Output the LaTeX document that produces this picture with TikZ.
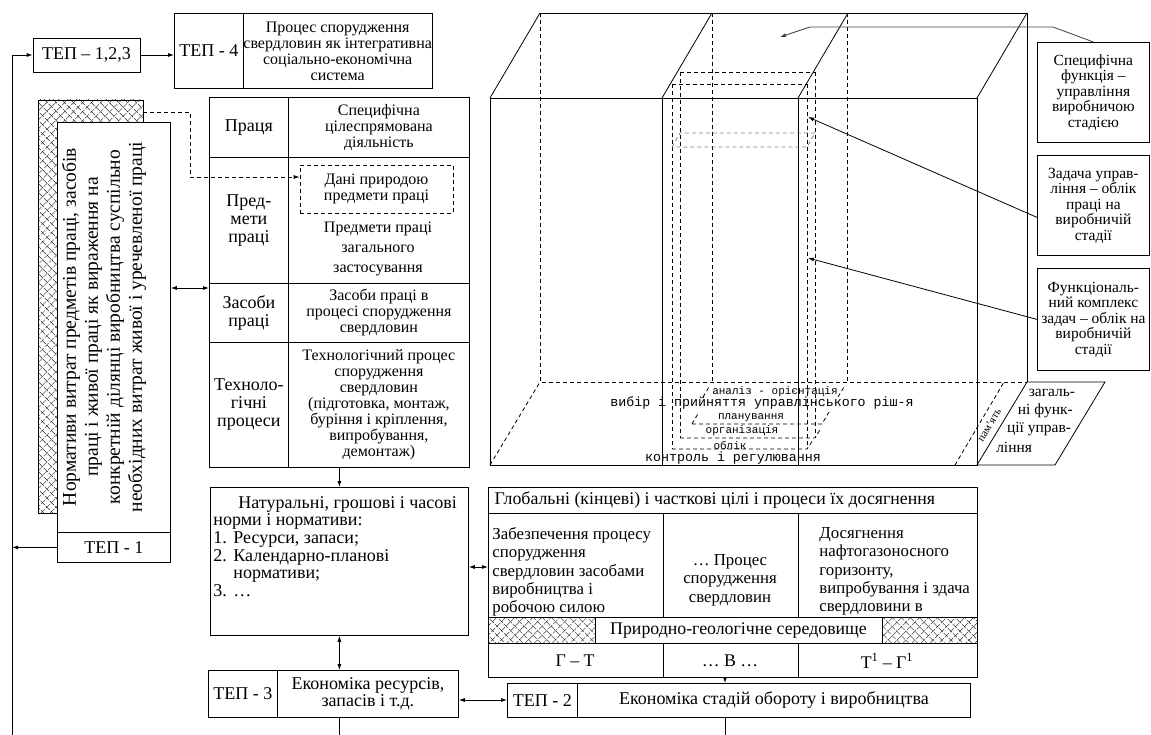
\documentclass[tikz,border=0pt]{standalone}
\usepackage{fontspec}
\setmainfont{Liberation Serif}
\newfontfamily\monofont{Liberation Mono}
\usetikzlibrary{positioning}
\usetikzlibrary{arrows.meta}
\usetikzlibrary{patterns.meta}
\newcommand{\fs}{\fontsize{16}{16}\selectfont}
\newcommand{\fc}{\fontsize{18}{18}\selectfont}
\newcommand{\ft}{\fontsize{18}{17}\selectfont}
\newcommand{\fp}{\fontsize{16}{16}\selectfont}
\newcommand{\fn}{\fontsize{18}{17.6}\selectfont}
\newcommand{\fh}{\fontsize{17.8}{18}\selectfont}
\newcommand{\fg}{\fontsize{16.8}{18.3}\selectfont}
\newcommand{\fr}{\fontsize{19.5}{22}\selectfont}
\newcommand{\fl}{\fontsize{15.5}{15.5}\selectfont}
\newcommand{\fm}{\fontsize{13.3}{14}\monofont}
\newcommand{\fms}{\fontsize{11}{12}\monofont}
\tikzset{
	every node/.style = {font=\fs},
	box/.style = {draw, fill=white, inner sep=0pt, align=center},
	cell/.style = {box, anchor=north west},
	dsh/.style = {dash pattern=on 4pt off 3pt},
	hatchA/.style = {pattern={Lines[angle=45,distance=6.5pt,line width=.6pt]}},
	hatchB/.style = {pattern={Lines[angle=-45,distance=6.5pt,line width=.6pt]}},
	arr/.style = {-{Latex[length=6pt,width=4pt]}},
	darr/.style = {{Latex[length=6pt,width=4pt]}-{Latex[length=6pt,width=4pt]}}
}

\begin{document}
\begin{tikzpicture}[x=1pt, y=-1pt, line width=.8pt]
		\useasboundingbox (0,0) rectangle (1151,735);
		% top row
		\node[box, font=\ft, minimum width=107, minimum height=34] (tep123) at (86.5,55) {ТЕП – 1,2,3};
		\node[cell, font=\ft, minimum width=69, minimum height=75] (tep4) at (174,13) {ТЕП - 4};
		\node[cell, font=\fp, minimum width=188, minimum height=75] (proc) at (243,13) {Процес спорудження\\свердловин як інтегративна\\соціально-економічна\\система};
		% left hand
		\path[hatchA] (38,100) rectangle (143,513);
		\path[hatchB] (38,100) rectangle (143,513);
		\draw (38,100) rectangle (143,513);
		\coordinate (hs) at (143,112);
		\node[cell, minimum width=113, minimum height=410] (norm) at (57,122) {};
		\node[rotate=90, align=center, font=\fr] (normtext) at (104,327) {Нормативи витрат предметів праці, засобів\\праці і живої праці як вираження на\\конкретній ділянці виробництва суспільно\\необхідних витрат живої і уречевленої праці};
		\node[cell, font=\ft, minimum width=113, minimum height=30] (tep1) at (57,532) {ТЕП - 1};
		\coordinate (lbot) at (12,735);
		% table
		\node[cell, font=\fc, minimum width=79, minimum height=60] (prac) at (209,97) {Праця};
		\node[cell, minimum width=181, minimum height=60] (pracr) at (288,97) {Специфічна\\цілеспрямована\\діяльність};
		\node[cell, font=\fc, minimum width=79, minimum height=126] (pred) at (209,157) {Пред-\\мети\\праці};
		\node[cell, minimum width=181, minimum height=126] (predr) at (288,157) {};
		\node[box, dsh, minimum width=153, minimum height=48] (dani) at (376.5,189) {Дані природою\\предмети праці};
		\node[align=center, font=\fontsize{16}{20}\selectfont] (predtext) at (378,249) {Предмети праці\\загального\\застосування};
		\node[cell, font=\fc, minimum width=79, minimum height=59] (zas) at (209,283) {Засоби\\праці};
		\node[cell, minimum width=181, minimum height=59] (zasr) at (288,283) {Засоби праці в\\процесі спорудження\\свердловин};
		\node[cell, font=\fc, minimum width=79, minimum height=125] (tech) at (209,342) {Техноло-\\гічні\\процеси};
		\node[cell, minimum width=181, minimum height=125] (techr) at (288,342) {Технологічний процес\\спорудження\\свердловин\\(підготовка, монтаж,\\буріння і кріплення,\\випробування,\\демонтаж)};
		% norms
		\node[cell, minimum width=258, minimum height=148] (nat) at (210,487) {};
		\node[anchor=north west, align=left, inner sep=0pt, font=\fn] (nattext) at (213,496) {\hspace*{25pt}Натуральні, грошові і часові\\норми і нормативи:\\\makebox[20pt][l]{1.}Ресурси, запаси;\\\makebox[20pt][l]{2.}Календарно-планові\\\hspace*{20pt}нормативи;\\\makebox[20pt][l]{3.}…};
		\node[cell, font=\ft, minimum width=69, minimum height=47] (tep3l) at (208,670) {ТЕП - 3};
		\node[cell, font=\ft, minimum width=181, minimum height=47] (tep3r) at (277,670) {Економіка ресурсів,\\запасів і т.д.};
		% goals
		\node[cell, minimum width=489, minimum height=190] (glob) at (488,487) {};
		\draw (glob.west |- 0,513) -- (glob.east |- 0,513);
		\node[anchor=west, font=\fh] (globtext) at (491,500) {Глобальні (кінцеві) і часткові цілі і процеси їх досягнення};
		\draw (663,513) -- (663,677) (798,513) -- (798,677);
		\node[anchor=north west, align=left, inner sep=0pt, font=\fg] (g1) at (492,527) {Забезпечення процесу\\спорудження\\свердловин засобами\\виробництва і\\робочою силою};
		\node[align=center, font=\fg] (g2) at (730,580) {… Процес\\спорудження\\свердловин};
		\node[anchor=north west, align=left, inner sep=0pt, font=\fg] (g3) at (819,527) {Досягнення\\нафтогазоносного\\горизонту,\\випробування і здача\\свердловини в};
		\fill[white] (488,617) rectangle (977,643);
		\path[hatchA] (488,617) rectangle (977,643);
		\path[hatchB] (488,617) rectangle (977,643);
		\draw (488,617) rectangle (977,643);
		\node[box, font=\fh, minimum width=287, minimum height=26] (geo) at (738.5,630) {Природно-геологічне середовище};
		\node[font=\fh] (gt1) at (575,661) {Г – Т};
		\node[font=\fh] (gt2) at (730,661) {… В …};
		\node[font=\fh] (gt3) at (887,661) {Т\textsuperscript{1} – Г\textsuperscript{1}};
		\node[cell, font=\ft, minimum width=70, minimum height=34] (tep2l) at (507,683) {ТЕП - 2};
		\node[cell, font=\ft, minimum width=393, minimum height=34] (tep2r) at (577,683) {Економіка стадій обороту і виробництва};
		% cube
		\scope
		\draw (540,13) -- (1027,13) -- (1027,382);
		\draw[dsh] (540,13) -- (540,382) -- (1027,382);
		\draw[dsh] (712,13) -- (712,382) (847,13) -- (847,382);
		\draw[dsh] (490,465) -- (540,382);
		\draw (490,98) rectangle (977,465);
		\draw (662,98) -- (662,465) (798,98) -- (798,465);
		\foreach \x in {490,662,798,977}
			\draw (\x,98) -- ++(50,-85);
		\endscope
		% inner column
		\scope
		\draw[dsh] (672,84) -- (807,84) (680,72) -- (815,72);
		\draw[dsh] (672,84) -- (672,449) (680,72) -- (680,438)
		      (807,84) -- (807,449) (815,72) -- (815,438);
		\draw[dsh, gray] (672,147) -- (680,133) -- (815,133) -- (807,147) -- cycle;
		\draw[dsh] (672,449) -- (807,449) -- (813,440);
		\draw[dsh] (680,438) -- (815,438) -- (821,428);
		\draw[dsh] (692,424) -- (822,424) -- (829,412) (692,424) -- (699,412);
		\draw[dsh] (703,397) -- (709,387) (838,397) -- (844,387);
		\endscope
		\node[font=\fms] (f1) at (775,392) {аналіз - орієнтація};
		\node[font=\fm] (f2) at (762,403) {вибір і прийняття управлінського ріш-я};
		\node[font=\fms] (f3) at (751,418) {планування};
		\node[font=\fms] (f4) at (742,431) {організація};
		\node[font=\fms] (f5) at (730,446) {облік};
		\node[font=\fm] (f6) at (733,458) {контроль і регулювання};
		% memory and general functions
		\draw (977,465) -- (1027,382) -- (1105,382) -- (1055,465) -- cycle;
		\draw[dsh] (955,465) -- (1004,382);
		\node[rotate=59, inner sep=0pt, font=\fontsize{11}{12}\selectfont] (mem) at (989,425) {пам’ять};
		\foreach \t/\yy [count=\i] in {загаль-/393, ні функ-/411, ції управ-/429, ління/447}
			\node[anchor=west, inner sep=0pt, font=\fl] (gf\i) at ({977+(465-\yy)*50/83+8},\yy) {\t};
		% right labels
		\node[cell, font=\fl, minimum width=112, minimum height=100] (spec) at (1037,42) {Специфічна\\функція –\\управління\\виробничою\\стадією};
		\node[cell, font=\fl, minimum width=112, minimum height=100] (task) at (1037,155) {Задача управ-\\ління – облік\\праці на\\виробничій\\стадії};
		\node[cell, font=\fl, minimum width=112, minimum height=102] (func) at (1037,268) {Функціональ-\\ний комплекс\\задач – облік на\\виробничій\\стадії};
		\coordinate (s1) at (1053,27);
		\coordinate (s2) at (810,27);
		\coordinate (stip) at (780,37);
		\coordinate (ttip) at (808,117);
		\coordinate (ftip) at (808,258);
		\draw[arr, black!75] (spec.north) -- (s1) -- (s2) -- (stip);
		\draw[arr] ([yshift=-12pt]task.west) -- (ttip);
		\draw[arr] (func.west) -- (ftip);
		% connectors
		\coordinate (hk) at (190,177);
		\coordinate (na) at (0,288);
		\coordinate (ng) at (0,567);
		\coordinate (gd) at (725,0);
		\coordinate (tt) at (0,700);
		\draw[arr] (lbot) |- (tep123.west);
		\draw[arr] (tep123.east) -- (tep123.east -| tep4.west);
		\draw[arr] (tep1.west) -- (tep1.west -| lbot);
		\draw[dsh, arr] (hs) -| (hk) -- (hk -| dani.west);
		\draw[darr] (norm.east |- na) -- (zas.west |- na);
		\draw[arr] (nat.north |- techr.south) -- (nat.north);
		\draw[darr] (nat.south) -- (nat.south |- tep3l.north);
		\draw (nat.south |- tep3l.south) -- (nat.south |- lbot);
		\draw[darr] (nat.east |- ng) -- (glob.west |- ng);
		\draw[arr] (gd |- glob.south) -- (gd |- tep2r.north);
		\draw (gd |- tep2r.south) -- (gd |- lbot);
		\draw[darr] (tep3r.east |- tt) -- (tep2l.west |- tt);
\end{tikzpicture}
\end{document}
